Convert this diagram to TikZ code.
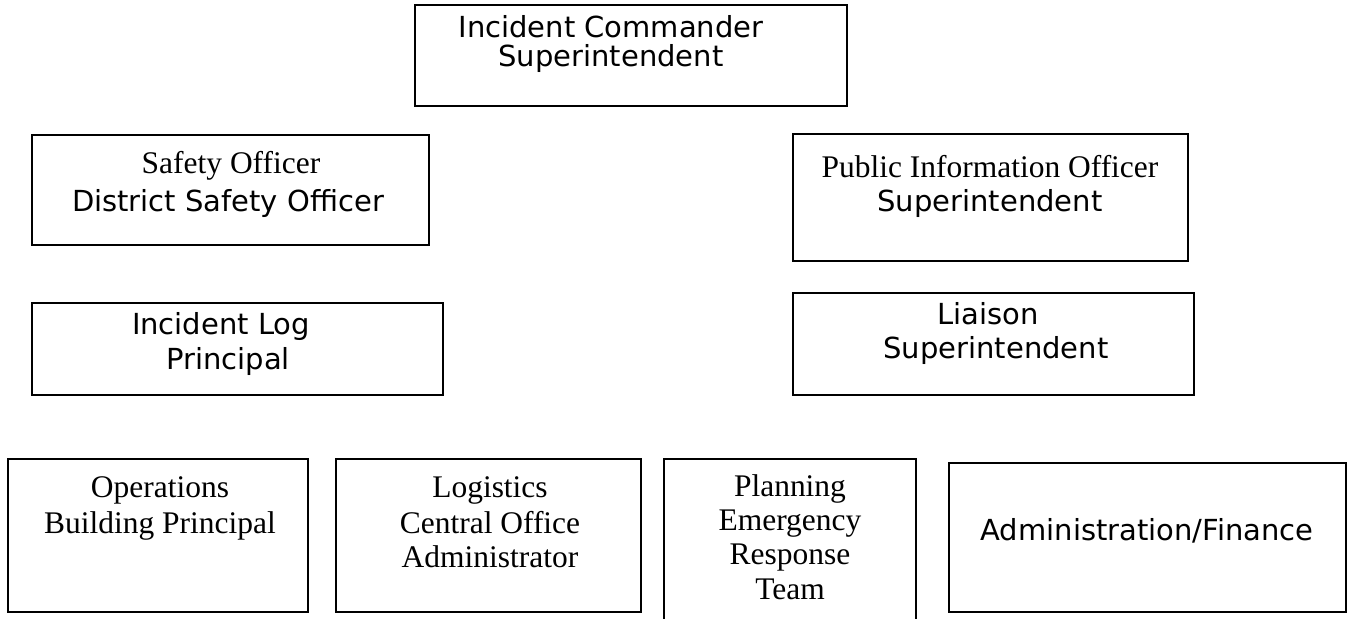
\documentclass[tikz,border=0pt]{standalone}
\usepackage{fontspec}
\usetikzlibrary{fit}
\newfontfamily\vfont{DejaVu Sans}
\newfontfamily\tfont{Liberation Serif}
\begin{document}
\begin{tikzpicture}[x=0.75pt,y=-0.75pt,
  box/.style={draw=black,line width=1.3pt,inner sep=0pt,rectangle},
  openbox/.style={inner sep=0pt,rectangle},
  vt/.style={anchor=base,inner sep=0pt,font=\vfont\fontsize{21.75pt}{26pt}\selectfont},
  tt/.style={anchor=base,inner sep=0pt,font=\tfont\fontsize{23.6pt}{28pt}\selectfont}]
\useasboundingbox[fill=white] (0,0) rectangle (1350,618);
% boxes
\node[box,fit={(415,5) (847,106)}] (ic) {};
\node[box,fit={(32,135) (429,245)}] (so) {};
\node[box,fit={(793,134) (1188,261)}] (pio) {};
\node[box,fit={(32,303) (443,395)}] (log) {};
\node[box,fit={(793,293) (1194,395)}] (lia) {};
\node[box,fit={(8,459) (308,612)}] (ops) {};
\node[box,fit={(336,459) (641,612)}] (lgs) {};
\node[openbox,fit={(664,459) (916,620)}] (pln) {};
\draw[line width=1.3pt] (pln.south west) -- (pln.north west) -- (pln.north east) -- (pln.south east);
\node[box,fit={(949,463) (1346,612)}] (adm) {};
% texts
\node[vt] (ic1) at (611,37) {Incident Commander};
\node[vt] (ic2) at (611,66) {Superintendent};
\node[tt] (so1) at (231,173) {Safety Officer};
\node[vt] (so2) at (228,211) {District Safety Officer};
\node[tt] (pio1) at (990,177) {Public Information Officer};
\node[vt] (pio2) at (990,211) {Superintendent};
\node[vt] (log1) at (221,334) {Incident Log};
\node[vt] (log2) at (228,369) {Principal};
\node[vt] (lia1) at (988,324) {Liaison};
\node[vt] (lia2) at (996,358) {Superintendent};
\node[tt] (ops1) at (160,497) {Operations};
\node[tt] (ops2) at (160,533) {Building Principal};
\node[tt] (lgs1) at (490,497) {Logistics};
\node[tt] (lgs2) at (490,533) {Central Office};
\node[tt] (lgs3) at (490,567) {Administrator};
\node[tt] (pln1) at (790,496) {Planning};
\node[tt] (pln2) at (790,530) {Emergency};
\node[tt] (pln3) at (790,564) {Response};
\node[tt] (pln4) at (790,599) {Team};
\node[vt] (adm1) at (1147,540) {Administration/Finance};
\end{tikzpicture}
\end{document}
